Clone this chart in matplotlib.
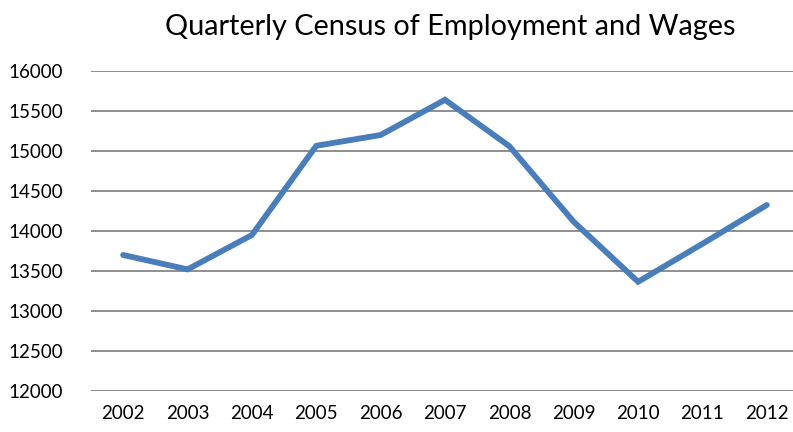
import matplotlib.pyplot as plt

years = ["2002", "2003", "2004", "2005", "2006", "2007", "2008", "2009", "2010", "2011", "2012"]
employment = [13700, 13520, 13950, 15065, 15200, 15640, 15060, 14115, 13365, 13840, 14325]
yticks = [12000, 12500, 13000, 13500, 14000, 14500, 15000, 15500, 16000]

plt.rcParams['font.family'] = ['Lato', 'DejaVu Sans']

fig = plt.figure(figsize=(7.93, 4.32), dpi=100)
ax = fig.add_axes([91/793, 1 - 391/432, 708/793, 320/432])

x = list(range(len(years)))
ax.plot(x, employment, color='#4A7EBB', linewidth=4.2, solid_joinstyle='miter', solid_capstyle='round', zorder=3)

ax.set_xlim(-0.5, len(years) - 0.5)
ax.set_ylim(12000, 16000)
ax.set_xticks(x)
ax.set_xticklabels(years, fontsize=13.5)
ax.set_yticks(yticks)
ax.set_yticklabels([str(v) for v in yticks], fontsize=13.5)
ax.tick_params(axis='both', length=0)
ax.tick_params(axis='y', pad=20)
ax.tick_params(axis='x', pad=10)
ax.yaxis.grid(True, color='#868686', linewidth=1.3)
for s in ax.spines.values():
    s.set_visible(False)

fig.text(450/793, 1 - 27/432, "Quarterly Census of Employment and Wages",
         ha='center', va='center', fontsize=20.8)

fig.savefig("out.png", dpi=100)
